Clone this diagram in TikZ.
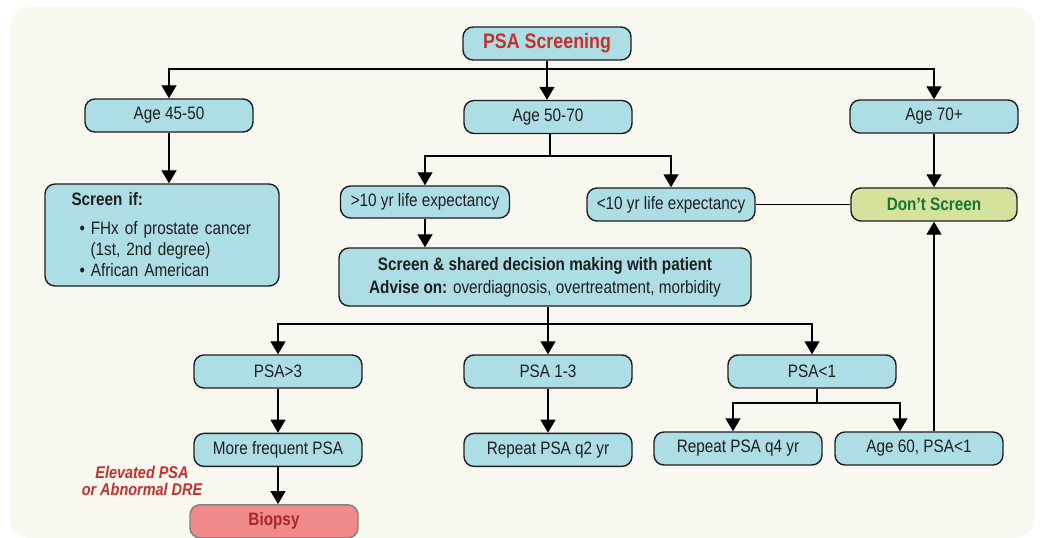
\documentclass[tikz,border=0pt]{standalone}
\usepackage{fontspec}
\setmainfont{Liberation Sans}[FakeStretch=0.85]
\usetikzlibrary{positioning,arrows.meta}
\definecolor{cream}{RGB}{248,247,240}
\definecolor{boxblue}{RGB}{174,222,229}
\definecolor{leaf}{RGB}{212,226,155}
\definecolor{salmon}{RGB}{241,138,138}
\definecolor{brick}{RGB}{196,48,46}
\definecolor{pine}{RGB}{22,118,52}
\definecolor{ink}{RGB}{30,30,30}

\begin{document}
\begin{tikzpicture}[x=1pt,y=-1pt,>={Triangle[width=15pt,length=13pt]},
    box/.style={draw=ink,line width=1.4pt,rounded corners=10pt,fill=boxblue,align=center,text=ink,
      font=\fontsize{18}{21}\selectfont,inner sep=3pt,minimum width=168pt,minimum height=33pt},
    link/.style={line width=1.3pt,draw=black}]
    \useasboundingbox (0,0) rectangle (1042,538);
    \fill[cream,rounded corners=20pt] (10,7) rectangle (1035,538);
    % top row
    \node[box,font=\fontsize{21}{22}\selectfont\bfseries,text=brick] (psa) at (547,43.5) {PSA Screening};
    \node[box] (a4550) at (169,115.5) {Age 45-50};
    \node[box] (a5070) at (548,117) {Age 50-70};
    \node[box] (a70) at (934,116.5) {Age 70+};
    \node[box,align=left,text width=181pt,inner xsep=26.5pt,minimum height=102pt] (scrif) at (162,235)
      {\textbf{Screen if:}\\[8pt]
       \hspace*{8pt}\textbullet\hspace{6pt}FHx of prostate cancer\\
       \hspace*{19pt}(1st, 2nd degree)\\
       \hspace*{8pt}\textbullet\hspace{6pt}African American};
    \node[box,minimum width=169pt,minimum height=32pt] (gt10) at (425,202) {>10 yr life expectancy};
    \node[box] (lt10) at (671,204.5) {<10 yr life expectancy};
    \node[box,fill=leaf,text=pine,font=\fontsize{18}{21}\selectfont\bfseries,minimum width=166pt] (dont) at (934,204.5) {Don’t Screen};
    \node[box,minimum width=412pt,minimum height=58pt] (shared) at (545,277)
      {\textbf{Screen \& shared decision making with patient}\\[2pt]
       \textbf{Advise on:} overdiagnosis, overtreatment, morbidity};
    % PSA levels
    \node[box] (psa3) at (278,371.5) {PSA>3};
    \node[box] (psa13) at (548,371.5) {PSA 1-3};
    \node[box] (psa1) at (812,371.5) {PSA<1};
    \node[box,below=44pt of psa3] (more) {More frequent PSA};
    \node[box,below=44pt of psa13] (q2) {Repeat PSA q2 yr};
    \node[box] (q4) at (738,448.5) {Repeat PSA q4 yr};
    \node[box] (age60) at (919,448.5) {Age 60, PSA<1};
    \node[box,below=37pt of more,xshift=-4pt,fill=salmon,draw=black!50,text=brick!85!black,
      font=\fontsize{18}{21}\selectfont\bfseries] (biopsy) {Biopsy};
    \node[text=brick,align=center,font=\fontsize{17}{17}\selectfont\bfseries\itshape] (elev) at (142,481)
      {Elevated PSA\\or Abnormal DRE};
    % bus points
    \coordinate (busa) at (547,69);
    \coordinate (busm) at (550,156);
    \coordinate (busb) at (548,324);
    \coordinate (busc) at (817,403);
    % connectors
    \draw[link,->] (psa.south) -- (psa.south |- a5070.north);
    \draw[link,->] (busa) -| (a4550);
    \draw[link,->] (busa) -| (a70);
    \draw[link,->] (a4550.south) -- (a4550.south |- scrif.north);
    \draw[link] (a5070.south -| busm) -- (busm);
    \draw[link,->] (busm) -| (gt10);
    \draw[link,->] (busm) -| (lt10);
    \draw[link,->] (gt10) -- (gt10 |- shared.north);
    \draw[link] (lt10) -- (dont);
    \draw[link,->] (a70) -- (dont);
    \draw[link,->] (age60.north -| dont.south) -- (dont.south);
    \draw[link] (shared.south -| busb) -- (busb);
    \draw[link,->] (busb) -| (psa3);
    \draw[link,->] (busb) -- (psa13);
    \draw[link,->] (busb) -| (psa1);
    \draw[link,->] (psa3) -- (more);
    \draw[link,->] (psa13) -- (q2);
    \draw[link] (psa1.south -| busc) -- (busc);
    \draw[link,->] (busc) -| ([xshift=-5pt]q4.north);
    \draw[link,->] (busc) -| ([xshift=-19pt]age60.north);
    \draw[link,->] (more.south) -- (more.south |- biopsy.north);
  \end{tikzpicture}
\end{document}
